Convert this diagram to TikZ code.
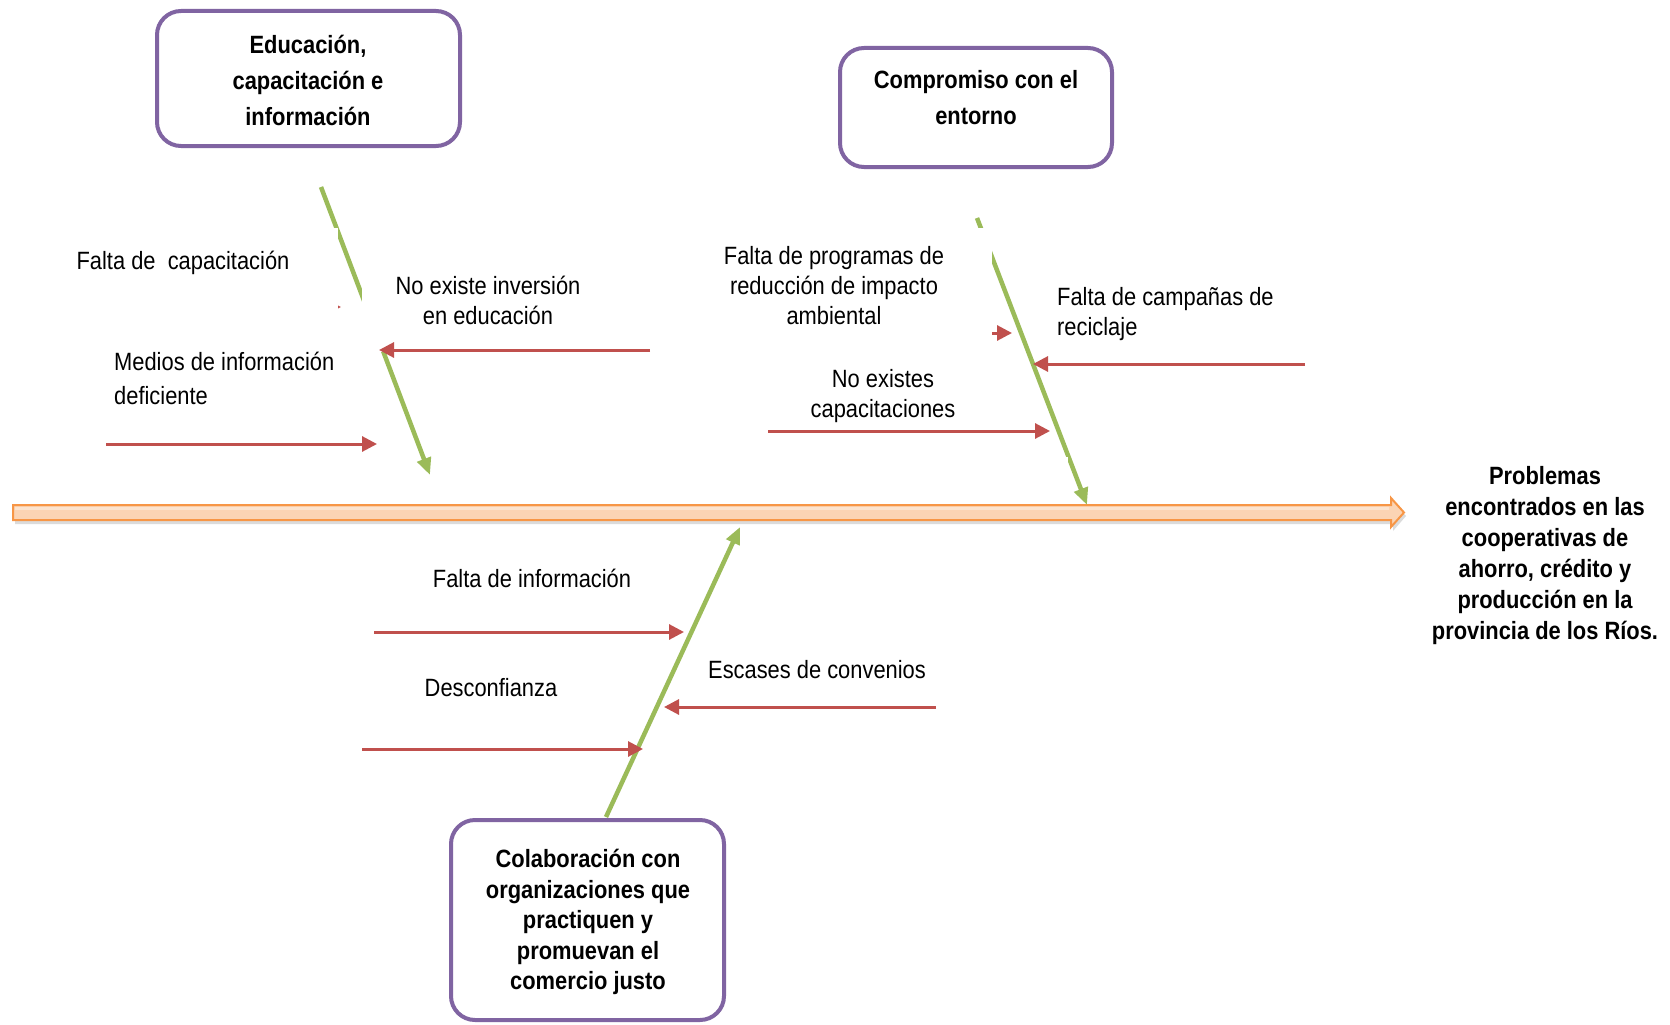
\documentclass[tikz,border=0pt]{standalone}
\usepackage{fontspec}
\setmainfont{Liberation Sans}[FakeStretch=0.875]
\usetikzlibrary{arrows.meta}
\definecolor{boxpurple}{HTML}{8064A2}
\definecolor{bonegreen}{HTML}{9BBB59}
\definecolor{arrred}{HTML}{C0504D}
\definecolor{spineorange}{HTML}{F79646}
\definecolor{spinefill}{HTML}{FBD4B4}
\begin{document}
\begin{tikzpicture}[x=1pt,y=-1pt,
  catbox/.style={draw=boxpurple, line width=4pt, rounded corners=24pt, fill=white, inner sep=0pt},
  cattext/.style={font=\bfseries\fontsize{25}{36}\selectfont, align=center, inner sep=0pt},
  lbl/.style={font=\fontsize{25}{30}\selectfont, align=center, inner sep=0pt},
  bone/.style={draw=bonegreen, line width=4.5pt, -{Triangle[length=17pt,width=14pt]}},
  cause/.style={draw=arrred, line width=3pt, -{Triangle[length=15pt,width=15pt]}},
  mask/.style={fill=white},
]
\useasboundingbox (0,0) rectangle (1670,1025);
\fill[white] (0,0) rectangle (1670,1025);

% category boxes
\node[catbox, minimum width=303pt, minimum height=135pt] (edu) at (308.5,78.5) {};
\node[cattext] (edut) at (308,80) {Educación,\\capacitación e\\información};
\node[catbox, minimum width=272pt, minimum height=119pt] (com) at (976,107.5) {};
\node[cattext] (comt) at (976,98) {Compromiso con el\\entorno};
\node[catbox, minimum width=273pt, minimum height=200pt] (col) at (587.5,920) {};
\node[cattext, font=\bfseries\fontsize{25}{30.5}\selectfont] (colt) at (588,922) {Colaboración con\\organizaciones que\\practiquen y\\promuevan el\\comercio justo};

% effect
\node[cattext, font=\bfseries\fontsize{25}{31}\selectfont] (prob) at (1545,556) {Problemas\\encontrados en las\\cooperativas de\\ahorro, crédito y\\producción en la\\provincia de los Ríos.};

% spine
\fill[black!14] (15,509) -- (1393,509) -- (1393,502) -- (1406,516) -- (1393,531) -- (1393,524) -- (15,524) -- cycle;
\path[draw=spineorange, line width=2pt, fill=spinefill, line join=miter] (13,505) -- (1391,505) -- (1391,498) -- (1404,512.5) -- (1391,527) -- (1391,520) -- (13,520) -- cycle;
\fill[white, opacity=0.35] (15,507) rectangle (1389,510);

% bones
\coordinate (g1s) at (321,187); \coordinate (g1e) at (430,475);
\coordinate (g2s) at (977,218); \coordinate (g2e) at (1087,505);
\coordinate (g3s) at (606,817); \coordinate (g3e) at (740,527);
\draw[bone] (g1s) -- (g1e);
\draw[bone] (g2s) -- (g2e);
\draw[bone] (g3s) -- (g3e);

% partly hidden cause arrows
\coordinate (h1s) at (150,307); \coordinate (h1e) at (341,307);
\coordinate (h2s) at (900,333); \coordinate (h2e) at (1012,333);
\draw[cause] (h1s) -- (h1e);
\draw[cause] (h2s) -- (h2e);

% white text-box masks
\fill[mask] (150,228) rectangle (338,318);
\fill[mask] (362,258) rectangle (625,352);
\fill[mask] (860,228) rectangle (992,352);
\fill[mask] (1000,457) rectangle (1068,470);

% labels
\node[lbl] (l1) at (183,263) {Falta de\ \ capacitación};
\node[lbl] (l2) at (488,300) {No existe inversión\\en educación};
\node[lbl, align=left, anchor=west, font=\fontsize{25}{34}\selectfont] (l3) at (114,378) {Medios de información\\deficiente};
\node[lbl] (l4) at (834,286) {Falta de programas de\\reducción de impacto\\ambiental};
\node[lbl, align=left, anchor=west] (l5) at (1057,314) {Falta de campañas de\\reciclaje};
\node[lbl] (l6) at (883,396) {No existes\\capacitaciones};
\node[lbl] (l7) at (532,578) {Falta de información};
\node[lbl] (l8) at (491,688) {Desconfianza};
\node[lbl] (l9) at (817,670) {Escases de convenios};

% cause arrows
\coordinate (a1s) at (650,350); \coordinate (a1e) at (379,350);
\coordinate (a2s) at (106,444); \coordinate (a2e) at (377,444);
\coordinate (a3s) at (1305,364); \coordinate (a3e) at (1033,364);
\coordinate (a4s) at (768,431); \coordinate (a4e) at (1050,431);
\coordinate (a5s) at (374,632); \coordinate (a5e) at (684,632);
\coordinate (a6s) at (362,749); \coordinate (a6e) at (643,749);
\coordinate (a7s) at (936,707); \coordinate (a7e) at (664,707);
\draw[cause] (a1s) -- (a1e);
\draw[cause] (a2s) -- (a2e);
\draw[cause] (a3s) -- (a3e);
\draw[cause] (a4s) -- (a4e);
\draw[cause] (a5s) -- (a5e);
\draw[cause] (a6s) -- (a6e);
\draw[cause] (a7s) -- (a7e);
\end{tikzpicture}
\end{document}
